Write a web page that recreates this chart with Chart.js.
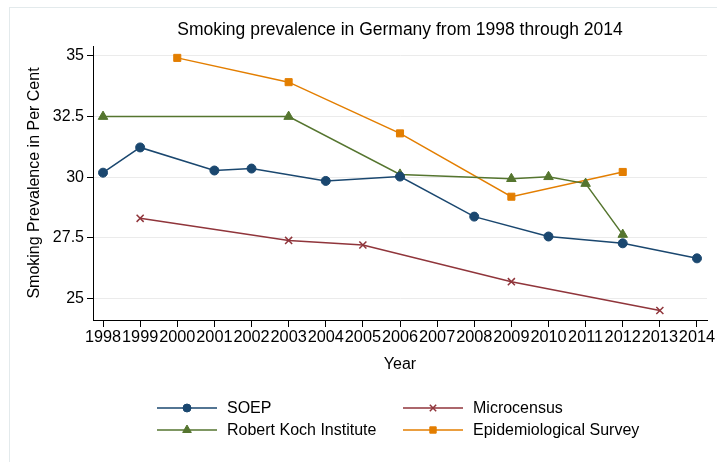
<!DOCTYPE html>
<html lang="en">
<head>
    <meta charset="UTF-8">
    <title>Smoking prevalence in Germany</title>
    <script src="https://cdn.jsdelivr.net/npm/chart.js@4.4.1/dist/chart.umd.min.js"></script>
    <style>
        html, body { margin: 0; padding: 0; background: #fff; }
        #wrap { width: 717px; height: 462px; }
    </style>
</head>
<body>
    <div id="wrap"><canvas id="chart" width="717" height="462"></canvas></div>
    <script>
        // values
        var years = [1998, 1999, 2000, 2001, 2002, 2003, 2004, 2005, 2006, 2007, 2008, 2009, 2010, 2011, 2012, 2013, 2014];
        var yTicks = [25, 27.5, 30, 32.5, 35];

        var soepYears = [1998, 1999, 2001, 2002, 2004, 2006, 2008, 2010, 2012, 2014];
        var soepValues = [30.19, 31.23, 30.28, 30.36, 29.85, 30.03, 28.38, 27.56, 27.28, 26.66];

        var microYears = [1999, 2003, 2005, 2009, 2013];
        var microValues = [28.31, 27.40, 27.21, 25.70, 24.51];

        var rkiYears = [1998, 2003, 2006, 2009, 2010, 2011, 2012];
        var rkiValues = [32.5, 32.5, 30.12, 29.94, 30.02, 29.74, 27.64];

        var epiYears = [2000, 2003, 2006, 2009, 2012];
        var epiValues = [34.92, 33.92, 31.81, 29.20, 30.22];

        var FONT = "'Liberation Sans', Arial, sans-serif";

        function pairs(xs, ys) {
            return xs.map(function (x, i) { return { x: x, y: ys[i] }; });
        }

        // legend drawn in two columns like the original
        var legendPlugin = {
            id: 'twoColLegend',
            afterDraw: function (chart) {
                var ctx = chart.ctx;
                var cols = [157, 403];
                var rows = [408, 430];
                chart.data.datasets.forEach(function (ds, i) {
                    var x = cols[i % 2];
                    var y = rows[Math.floor(i / 2)];
                    ctx.save();
                    ctx.strokeStyle = ds.borderColor;
                    ctx.fillStyle = ds.borderColor;
                    ctx.lineWidth = 1.5;
                    ctx.beginPath();
                    ctx.moveTo(x, y);
                    ctx.lineTo(x + 60, y);
                    ctx.stroke();
                    ctx.lineWidth = ds.pointBorderWidth || 1;
                    Chart.helpers.drawPoint(ctx, {
                        pointStyle: ds.pointStyle,
                        radius: ds.pointRadius - 0.5,
                        borderWidth: ds.pointBorderWidth || 1,
                        rotation: 0
                    }, x + 30, y);
                    ctx.fillStyle = '#000';
                    ctx.font = '16px ' + FONT;
                    ctx.textBaseline = 'middle';
                    ctx.fillText(ds.label, x + 70, y + 1);
                    ctx.restore();
                });
            },
            beforeDraw: function (chart) {
                var ctx = chart.ctx;
                ctx.save();
                ctx.strokeStyle = '#e3eaec';
                ctx.lineWidth = 1;
                ctx.strokeRect(9.5, 7.5, 720, 470);
                ctx.restore();
            }
        };

        function series(label, xs, ys, color, style, radius) {
            return {
                label: label,
                data: pairs(xs, ys),
                borderColor: color,
                backgroundColor: color,
                pointBackgroundColor: color,
                pointBorderColor: color,
                pointStyle: style,
                pointRadius: radius,
                pointBorderWidth: style === 'crossRot' ? 1.5 : 1,
                borderWidth: 1.5,
                fill: false,
                tension: 0
            };
        }

        new Chart(document.getElementById('chart'), {
            type: 'line',
            data: {
                datasets: [
                    series('SOEP', soepYears, soepValues, '#1a476f', 'circle', 4.5),
                    series('Microcensus', microYears, microValues, '#90353b', 'crossRot', 5),
                    series('Robert Koch Institute', rkiYears, rkiValues, '#55752f', 'triangle', 5.5),
                    series('Epidemiological Survey', epiYears, epiValues, '#e37e00', 'rect', 5)
                ]
            },
            plugins: [legendPlugin],
            options: {
                responsive: false,
                animation: false,
                layout: { padding: { left: 18, right: 10, top: 0, bottom: 80 } },
                plugins: {
                    legend: { display: false },
                    tooltip: { enabled: false },
                    title: {
                        display: true,
                        fullSize: false,
                        text: 'Smoking prevalence in Germany from 1998 through 2014',
                        color: '#000',
                        font: { family: FONT, size: 17.5, weight: 'normal' },
                        padding: { top: 20, bottom: 5 }
                    }
                },
                scales: {
                    x: {
                        type: 'linear',
                        min: 1997.73,
                        max: 2014.27,
                        afterBuildTicks: function (s) {
                            s.ticks = years.map(function (v) { return { value: v }; });
                        },
                        afterFit: function (s) { s.height = 62; },
                        grid: { drawOnChartArea: false, tickColor: '#000', tickLength: 7 },
                        border: { color: '#000', width: 1 },
                        ticks: {
                            autoSkip: false,
                            maxRotation: 0,
                            color: '#000',
                            padding: 1,
                            font: { family: FONT, size: 16.3 },
                            callback: function (v) { return String(v); }
                        },
                        title: {
                            display: true,
                            text: 'Year',
                            color: '#000',
                            font: { family: FONT, size: 16 },
                            padding: { top: 4, bottom: 8 }
                        }
                    },
                    y: {
                        min: 24.12,
                        max: 35.41,
                        afterBuildTicks: function (s) {
                            s.ticks = yTicks.map(function (v) { return { value: v }; });
                        },
                        afterFit: function (s) { s.width = 75; },
                        grid: { color: '#ebebeb', tickColor: '#000', tickLength: 6 },
                        border: { color: '#000', width: 1 },
                        ticks: {
                            color: '#000',
                            padding: 3,
                            font: { family: FONT, size: 16 },
                            callback: function (v) { return String(v); }
                        },
                        title: {
                            display: true,
                            text: 'Smoking Prevalence in Per Cent',
                            color: '#000',
                            font: { family: FONT, size: 16 },
                            padding: { top: 7, bottom: 4 }
                        }
                    }
                }
            }
        });
    </script>
</body>
</html>
